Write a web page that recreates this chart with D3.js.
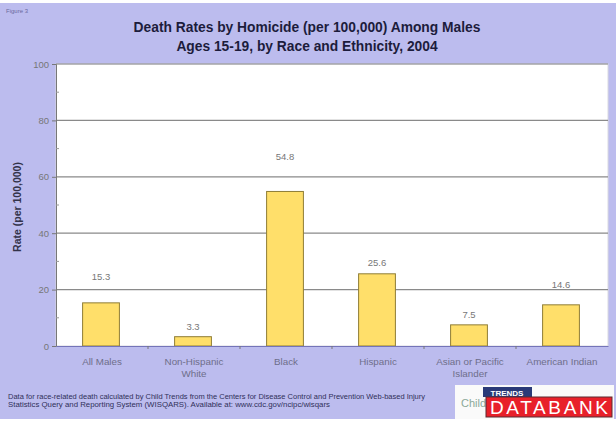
<!DOCTYPE html>
<html><head><meta charset="utf-8">
<script src="https://cdn.jsdelivr.net/npm/d3@7"></script>
<style>html,body{margin:0;padding:0;background:#fff;}svg{display:block;}</style>
</head><body>
<script>
const categories = [["All Males"], ["Non-Hispanic", "White"], ["Black"], ["Hispanic"], ["Asian or Pacific", "Islander"], ["American Indian"]];
const values = [15.3, 3.3, 54.8, 25.6, 7.5, 14.6];
const yTicks = [0, 20, 40, 60, 80, 100];
const minorTicks = [10, 30, 50, 70, 90];
const titleLines = ["Death Rates by Homicide (per 100,000) Among Males", "Ages 15-19, by Race and Ethnicity, 2004"];
const noteLines = ["Data for race-related death calculated by Child Trends from the Centers for Disease Control and Prevention Web-based Injury",
                   "Statistics Query and Reporting System (WISQARS).  Available at:  www.cdc.gov/ncipc/wisqars"];
// layout: label lift above bar (px), as in reference
const labelLift = [26, 10, 34, 11, 10, 20];
const noteWidths = [417, 322];

const W = 616, H = 427;
const svg = d3.select("body").append("svg").attr("width", W).attr("height", H);
const font = "'Liberation Sans', Arial, sans-serif";

svg.append("rect").attr("x", 0).attr("y", 3).attr("width", W).attr("height", 416).attr("fill", "#bcbcee");

svg.append("text").attr("x", 6).attr("y", 13).attr("font-family", font).attr("font-size", 6)
  .attr("fill", "#6a6aa0").text("Figure 3");

svg.selectAll("text.title").data(titleLines).enter().append("text")
  .attr("x", 307).attr("y", (d, i) => 32 + i * 19).attr("text-anchor", "middle")
  .attr("font-family", font).attr("font-weight", "bold").attr("font-size", 13.8)
  .attr("fill", "#1c1c3c").text(d => d);

const m = {l: 56, r: 608, t: 64, b: 346};
const x = d3.scaleBand().domain(d3.range(categories.length)).range([m.l, m.r]);
const y = d3.scaleLinear().domain([0, 100]).range([m.b, m.t]);

svg.append("rect").attr("x", m.l).attr("y", m.t).attr("width", m.r - m.l).attr("height", m.b - m.t)
  .attr("fill", "#ffffff").attr("stroke", "#d8d8e0").attr("stroke-width", 1);

svg.append("g").selectAll("line").data(yTicks.filter(d => d > 0)).enter().append("line")
  .attr("x1", m.l).attr("x2", m.r).attr("y1", d => y(d)).attr("y2", d => y(d))
  .attr("stroke", "#8a8a8a").attr("stroke-width", 1.2);

const yAxis = svg.append("g").attr("transform", `translate(${m.l},0)`)
  .call(d3.axisLeft(y).tickValues(yTicks).tickSize(4).tickPadding(3));
yAxis.select(".domain").attr("stroke", "#777");
yAxis.selectAll(".tick line").attr("stroke", "#777");
yAxis.selectAll("text").attr("font-family", font).attr("font-size", 9.5).attr("fill", "#777");

svg.append("g").selectAll("line").data(minorTicks).enter().append("line")
  .attr("x1", m.l).attr("x2", m.l + 3).attr("y1", d => y(d)).attr("y2", d => y(d))
  .attr("stroke", "#999");

const bw = x.bandwidth() * 0.4;
svg.append("g").selectAll("rect").data(values).enter().append("rect")
  .attr("x", (d, i) => x(i) + x.bandwidth() / 2 - bw / 2 - 1)
  .attr("y", d => y(d)).attr("width", bw).attr("height", d => m.b - y(d))
  .attr("fill", "#ffdf6a").attr("stroke", "#8f7d36").attr("stroke-width", 1);

svg.append("g").selectAll("text").data(values).enter().append("text")
  .attr("x", (d, i) => x(i) + x.bandwidth() / 2 - 1)
  .attr("y", (d, i) => y(d) - labelLift[i] + 3)
  .attr("text-anchor", "middle").attr("font-family", font).attr("font-size", 9.5)
  .attr("fill", "#777").text(d => d.toFixed(1));

const xAxis = svg.append("g").attr("transform", `translate(0,${m.b})`)
  .call(d3.axisBottom(x).tickSize(0).tickFormat(""));
xAxis.select(".domain").attr("stroke", "#7474b8").attr("stroke-width", 1.2);
svg.append("g").selectAll("line").data(d3.range(1, categories.length)).enter().append("line")
  .attr("x1", d => x(d)).attr("x2", d => x(d)).attr("y1", m.b).attr("y2", m.b + 3)
  .attr("stroke", "#777");

const cl = svg.append("g").selectAll("text").data(categories).enter().append("text")
  .attr("x", (d, i) => x(i) + x.bandwidth() / 2).attr("y", 365)
  .attr("text-anchor", "middle").attr("font-family", font).attr("font-size", 9.8)
  .attr("fill", "#6e6e8a");
cl.selectAll("tspan").data(d => d).enter().append("tspan")
  .attr("x", function () { return d3.select(this.parentNode).attr("x"); })
  .attr("dy", (d, i) => i === 0 ? 0 : 12).text(d => d);

svg.append("text").attr("transform", `translate(21,${(m.t + m.b) / 2 + 2}) rotate(-90)`)
  .attr("text-anchor", "middle").attr("font-family", font).attr("font-weight", "bold")
  .attr("font-size", 10.5).attr("fill", "#33334a").text("Rate (per 100,000)");

svg.selectAll("text.note").data(noteLines).enter().append("text")
  .attr("x", 8).attr("y", (d, i) => 399 + i * 8).attr("font-family", font).attr("font-size", 6.8)
  .attr("textLength", (d, i) => noteWidths[i]).attr("lengthAdjust", "spacingAndGlyphs")
  .attr("fill", "#30305a").text(d => d);

// logo
const lg = svg.append("g");
lg.append("rect").attr("x", 455).attr("y", 385).attr("width", 159).attr("height", 34).attr("fill", "#fafafa");
lg.append("text").attr("x", 461).attr("y", 407).attr("font-family", font).attr("font-size", 11)
  .attr("fill", "#8aa898").text("Child");
lg.append("rect").attr("x", 483).attr("y", 387).attr("width", 49).attr("height", 10).attr("fill", "#2a3a78");
lg.append("text").attr("x", 507).attr("y", 395.5).attr("text-anchor", "middle").attr("font-family", font)
  .attr("font-size", 8).attr("font-weight", "bold").attr("fill", "#ffffff").text("TRENDS");
lg.append("rect").attr("x", 486).attr("y", 397).attr("width", 126).attr("height", 20)
  .attr("fill", "#e8202a").attr("stroke", "#5a2a30").attr("stroke-width", 1);
lg.append("text").attr("x", 549).attr("y", 414).attr("text-anchor", "middle").attr("font-family", font)
  .attr("font-size", 19).attr("fill", "#ffffff").attr("textLength", 118).text("DATABANK");
</script>
</body></html>
